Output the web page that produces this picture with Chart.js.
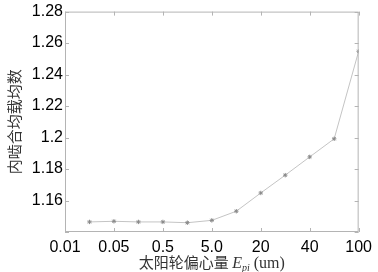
<!DOCTYPE html>
<html>
<head>
<meta charset="utf-8">
<script src="https://cdn.jsdelivr.net/npm/chart.js@4"></script>
<style>
  body { margin: 0; background: #fff; }
  #wrap { width: 378px; height: 272px; }
</style>
</head>
<body>
<div id="wrap"><canvas id="loadChart" width="378" height="272"></canvas></div>
<script>
// tick labels on the x axis (evenly spaced, not to scale)
const xTickLabels = ['0.01', '0.05', '0.5', '5.0', '20', '40', '100'];
// x position of each point, in tick units
const xPos = [0.5, 1, 1.5, 2, 2.5, 3, 3.5, 4, 4.5, 5, 5.5, 6];
// load sharing factor
const loadFactor = [1.1464, 1.1468, 1.1464, 1.1464, 1.1459, 1.1474, 1.1532, 1.1648, 1.1761, 1.1877, 1.1992, 1.2548];

const yTitle = '内啮合均载均数';
const xTitleCn = '太阳轮偏心量 ';

const frameColor = '#b4b4b4';

// frame, inward ticks and axis titles
const framePlugin = {
  id: 'frame',
  afterDraw(chart) {
    const ctx = chart.ctx;
    const a = chart.chartArea;
    const xs = chart.scales.x, ys = chart.scales.y;
    ctx.save();
    ctx.strokeStyle = frameColor;
    ctx.lineWidth = 1;
    ctx.strokeRect(a.left + 0.5, a.top + 0.5, a.right - a.left - 1, a.bottom - a.top - 1);
    ctx.beginPath();
    ys.ticks.forEach(t => {
      const y = Math.round(ys.getPixelForValue(t.value)) + 0.5;
      ctx.moveTo(a.left, y); ctx.lineTo(a.left + 4, y);
      ctx.moveTo(a.right, y); ctx.lineTo(a.right - 4, y);
    });
    xs.ticks.forEach(t => {
      const x = Math.round(xs.getPixelForValue(t.value)) + 0.5;
      ctx.moveTo(x, a.bottom); ctx.lineTo(x, a.bottom - 4);
      ctx.moveTo(x, a.top); ctx.lineTo(x, a.top + 4);
    });
    ctx.stroke();

    // y title
    ctx.fillStyle = '#333';
    ctx.save();
    ctx.translate(14, (a.top + a.bottom) / 2);
    ctx.rotate(-Math.PI / 2);
    ctx.font = '15px "Noto Sans CJK SC"';
    ctx.textAlign = 'center';
    ctx.textBaseline = 'middle';
    ctx.fillText(yTitle, 0, 0);
    ctx.restore();

    // x title with subscript
    const base = 268;
    const parts = [
      { t: xTitleCn, f: '15px "Noto Sans CJK SC"', dy: 0 },
      { t: 'E', f: 'italic 16px "Liberation Serif"', dy: 0 },
      { t: 'pi', f: 'italic 10px "Liberation Serif"', dy: 3 },
      { t: ' (um)', f: '16px "Liberation Serif"', dy: 0 }
    ];
    let total = 0;
    parts.forEach(p => { ctx.font = p.f; p.w = ctx.measureText(p.t).width; total += p.w; });
    let x = (a.left + a.right) / 2 - total / 2;
    ctx.textAlign = 'left';
    ctx.textBaseline = 'alphabetic';
    parts.forEach(p => {
      ctx.font = p.f;
      ctx.fillText(p.t, x, base + p.dy);
      x += p.w;
    });
    ctx.restore();
  }
};

const points = xPos.map((x, i) => ({ x: x, y: loadFactor[i] }));

new Chart(document.getElementById('loadChart').getContext('2d'), {
  type: 'line',
  data: {
    datasets: [{
      data: points,
      borderColor: '#c4c4c4',
      borderWidth: 1,
      pointStyle: 'star',
      pointRadius: 2.2,
      pointBorderColor: '#8a8a8a',
      pointBorderWidth: 1,
      pointBackgroundColor: '#8a8a8a',
      tension: 0
    }]
  },
  options: {
    responsive: false,
    animation: false,
    layout: { padding: { left: 0, right: 12, top: 7, bottom: 0 } },
    plugins: { legend: { display: false }, tooltip: { enabled: false } },
    scales: {
      x: {
        type: 'linear',
        min: 0,
        max: 6,
        grid: { display: false, drawTicks: false },
        border: { display: false },
        ticks: {
          stepSize: 1,
          padding: 6,
          color: '#000',
          font: { family: '"Liberation Sans", Arial', size: 16 },
          maxRotation: 0,
          callback: v => xTickLabels[v] || ''
        },
        afterFit: s => { s.height = 40; }
      },
      y: {
        min: 1.14,
        max: 1.28,
        grid: { display: false, drawTicks: false },
        border: { display: false },
        ticks: {
          stepSize: 0.02,
          padding: 2,
          color: '#000',
          font: { family: '"Liberation Sans", Arial', size: 16 },
          callback: v => (Math.abs(v - 1.14) < 1e-6 ? '' : String(parseFloat(v.toFixed(2))))
        },
        afterFit: s => { s.width = 65; }
      }
    }
  },
  plugins: [framePlugin]
});
</script>
</body>
</html>
